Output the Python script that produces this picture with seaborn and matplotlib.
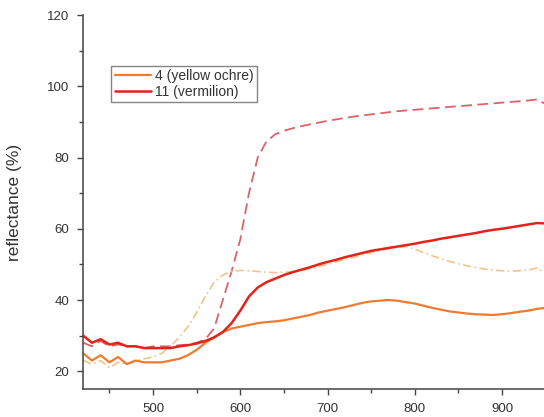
import numpy as np
import pandas as pd
import seaborn as sns
import matplotlib.pyplot as plt

# wavelength grid (nm)
wavelength = list(range(420, 951, 10))

# 4 (yellow ochre) - solid
ochre = [25, 23, 24.5, 22.5, 24, 22, 23, 22.5, 22.5, 22.5,
         23, 23.5, 24.5, 26, 28, 29.5, 31, 32, 32.5, 33,
         33.5, 33.8, 34, 34.3, 34.8, 35.3, 35.8, 36.5, 37, 37.5,
         38, 38.6, 39.2, 39.6, 39.8, 40, 39.8, 39.4, 39, 38.4,
         37.8, 37.3, 36.8, 36.5, 36.2, 36, 35.9, 35.8, 36, 36.3,
         36.7, 37, 37.5, 37.8]
# 4 (yellow ochre) - second curve, dash-dot
ochre_2 = [23, 22, 23, 21, 22.5, 22, 23, 23.5, 24, 25,
           27, 29.5, 32.5, 36.5, 41, 45, 47, 48, 48.3, 48.2,
           48, 47.8, 47.7, 47.8, 48, 48.3, 48.8, 49.4, 50, 50.7,
           51.4, 52, 52.7, 53.3, 53.9, 54.4, 54.8, 55, 54.3, 53.3,
           52.4, 51.6, 50.8, 50.2, 49.6, 49.1, 48.7, 48.4, 48.2, 48.1,
           48.2, 48.4, 49, 47.5]
# 11 (vermilion) - solid
vermilion = [30, 28, 29, 27.5, 28, 27, 27, 26.5, 26.5, 26.5,
             26.5, 27, 27.3, 27.8, 28.5, 29.5, 31, 33.5, 37, 41,
             43.5, 45, 46, 47, 47.8, 48.5, 49.2, 50, 50.7, 51.3,
             52, 52.6, 53.2, 53.8, 54.2, 54.6, 55, 55.4, 55.8, 56.3,
             56.7, 57.2, 57.6, 58, 58.4, 58.8, 59.3, 59.7, 60, 60.4,
             60.8, 61.2, 61.6, 61.5]
# 11 (vermilion) - second curve, dashed
vermilion_2 = [28, 27, 28.5, 27, 27.5, 27, 27, 26.5, 27, 27,
               27, 27.3, 27.5, 28, 29, 32, 40, 48, 57, 70,
               80, 84.5, 86.5, 87.5, 88.2, 88.8, 89.3, 89.8, 90.3, 90.7,
               91.1, 91.5, 91.8, 92.1, 92.4, 92.7, 93, 93.2, 93.4, 93.6,
               93.8, 94, 94.2, 94.4, 94.6, 94.8, 95, 95.2, 95.4, 95.6,
               95.8, 96, 96.3, 95]

df = pd.DataFrame({"wl": wavelength, "ochre": ochre, "ochre_2": ochre_2,
                   "vermilion": vermilion, "vermilion_2": vermilion_2})

sns.set_style("ticks")
plt.rcParams["font.family"] = ["Liberation Sans", "DejaVu Sans"]

fig = plt.figure(figsize=(5.44, 4.17), dpi=100)
ax = fig.add_axes([0.153, 0.067, 0.85, 0.897])

sns.lineplot(data=df, x="wl", y="vermilion_2", ax=ax, color="#d9646c",
             lw=1.3, dashes=False, linestyle=(0, (6, 3)))
sns.lineplot(data=df, x="wl", y="ochre_2", ax=ax, color="#f2c48a",
             lw=1.2, linestyle=(0, (5, 2, 1, 2)))
sns.lineplot(data=df, x="wl", y="ochre", ax=ax, color="#f07a30",
             lw=1.6, label="4 (yellow ochre)")
sns.lineplot(data=df, x="wl", y="vermilion", ax=ax, color="#e3231a",
             lw=1.8, label="11 (vermilion)")

ax.set_xlim(420, 950)
ax.set_ylim(15, 120)
ax.set_xticks([500, 600, 700, 800, 900])
ax.set_xticks(range(450, 951, 100), minor=True)
ax.set_yticks([20, 40, 60, 80, 100, 120])
ax.set_yticks([30, 50, 70, 90, 110], minor=True)
ax.set_xlabel("")
ax.set_ylabel("reflectance (%)", fontsize=12.5, color="#333333", labelpad=18)
ax.tick_params(which="major", length=4, width=1, labelsize=9.5,
               colors="#444444", labelcolor="#333333", pad=6)
ax.tick_params(which="minor", length=3, width=1, colors="#444444")
sns.despine(ax=ax, top=True, right=True)
for s in ["left", "bottom"]:
    ax.spines[s].set_color("#444444")
    ax.spines[s].set_linewidth(1.1)

leg = ax.legend(loc="upper left", bbox_to_anchor=(0.061, 0.864), fontsize=10,
                frameon=True, fancybox=False, handlelength=2.6,
                borderpad=0.25, labelspacing=0.1, handletextpad=0.3,
                borderaxespad=0)
leg.get_frame().set_edgecolor("#666666")
leg.get_frame().set_linewidth(1.0)
for t in leg.get_texts():
    t.set_color("#333333")

fig.savefig("out.png", dpi=100)
